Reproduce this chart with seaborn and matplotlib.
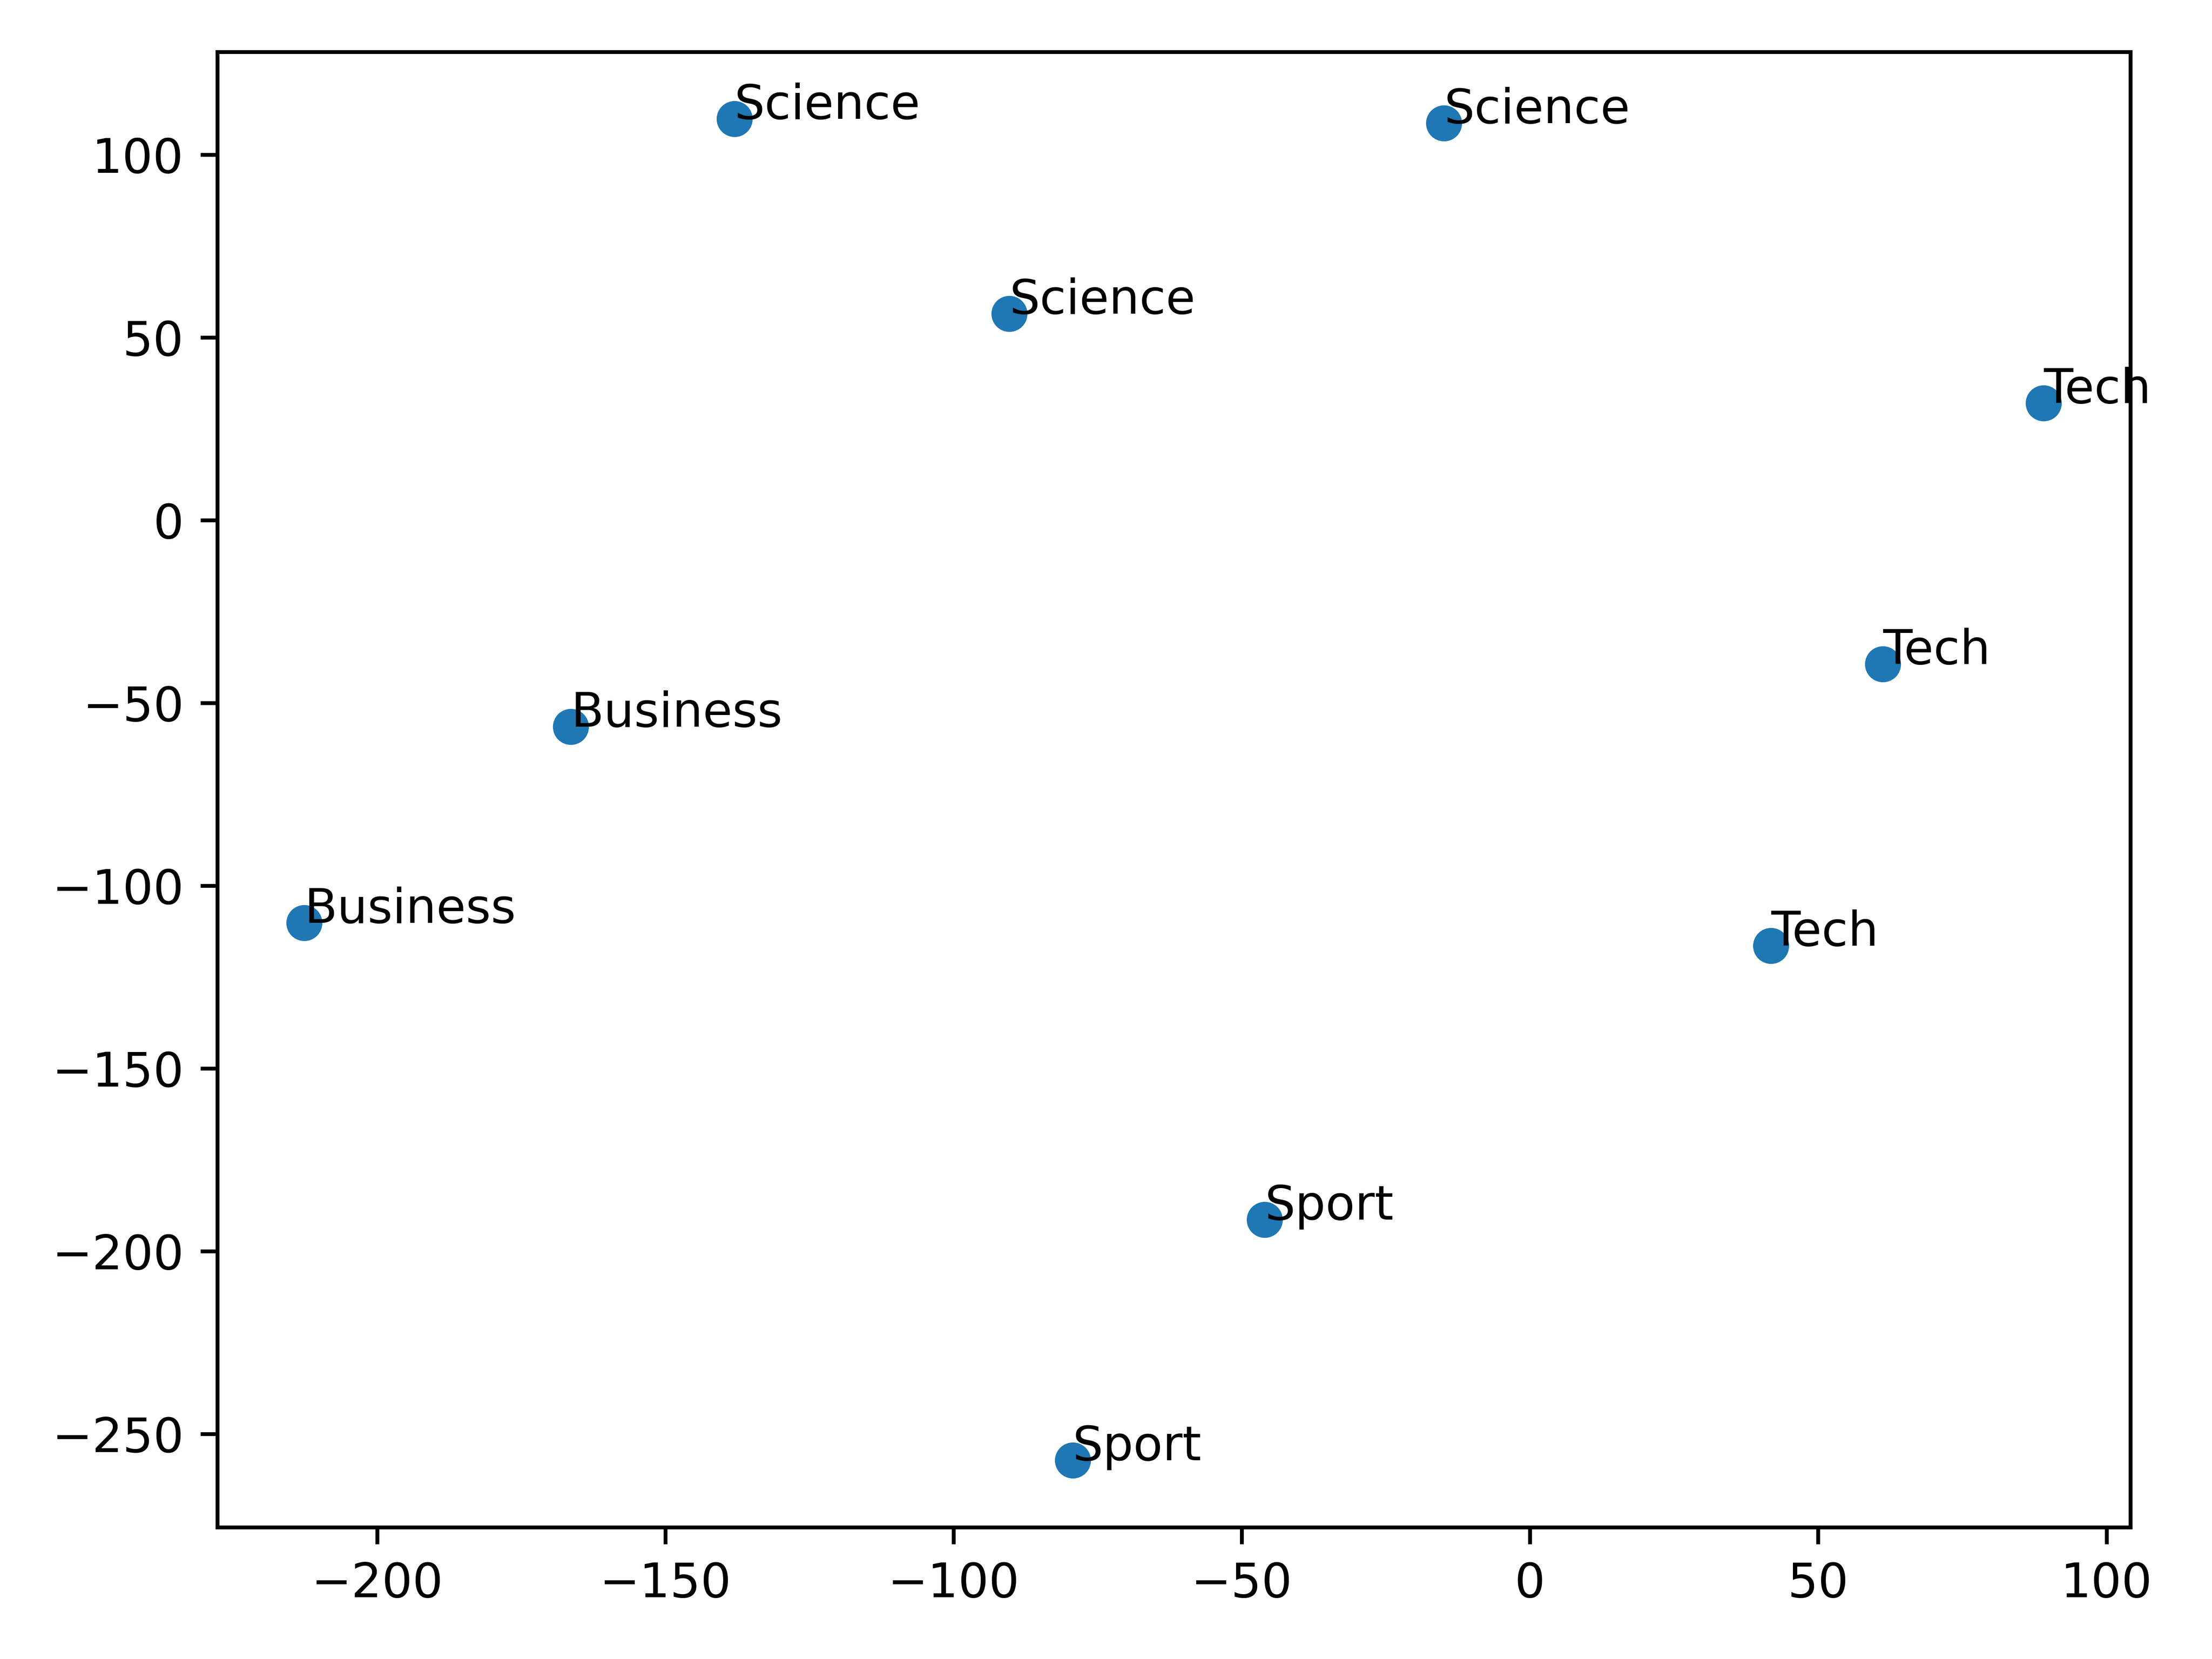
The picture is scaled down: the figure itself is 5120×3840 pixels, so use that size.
import matplotlib
matplotlib.use("Agg")
import matplotlib.pyplot as plt
import seaborn as sns
import numpy as np

# 2-d projection of the article vectors, with their category
labels = ['Science', 'Science', 'Science', 'Tech', 'Tech', 'Tech',
          'Business', 'Business', 'Sport', 'Sport']
xs = [-138.0, -14.9, -90.3, 89.1, 61.2, 41.8, -166.4, -212.6, -46.0, -79.3]
ys = [109.8, 108.7, 56.5, 32.1, -39.4, -116.4, -56.5, -110.2, -191.4, -257.2]


def main():
    fig = plt.figure(figsize=(6.4, 4.8), dpi=800)
    ax = sns.scatterplot(x=np.array(xs), y=np.array(ys), color='#1f77b4',
                         s=36, edgecolor='face', linewidth=1.5)
    for label, x, y in zip(labels, xs, ys):
        ax.annotate(label, (x, y))
    ax.set_xlabel('')
    ax.set_ylabel('')
    plt.tight_layout()
    plt.savefig('out.png')


if __name__ == '__main__':
    main()
